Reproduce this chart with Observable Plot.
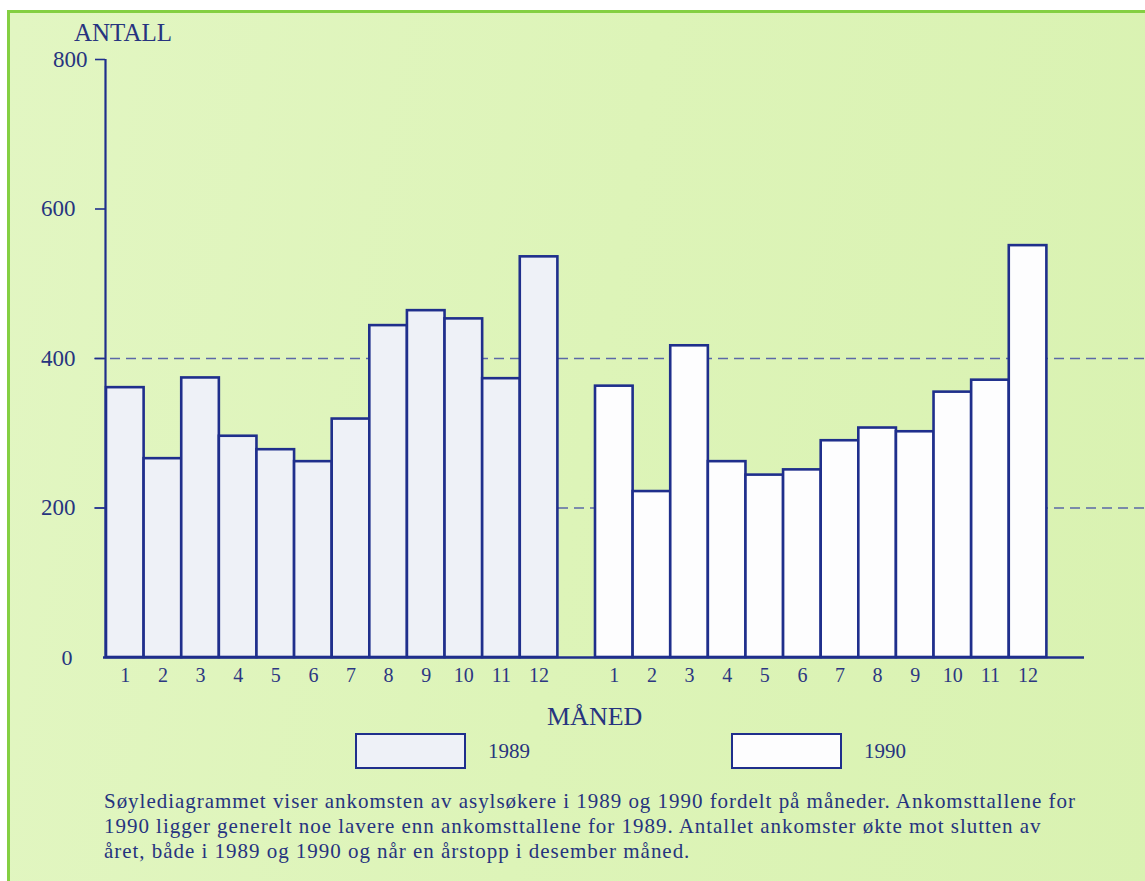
<!DOCTYPE html>
<html>
<head>
<meta charset="utf-8">
<script src="https://cdn.jsdelivr.net/npm/d3@7"></script>
<script src="https://cdn.jsdelivr.net/npm/@observablehq/plot@0.6"></script>
<style>
  html, body { margin: 0; padding: 0; background: #ffffff; }
  body { width: 1145px; height: 881px; position: relative; overflow: hidden; font-family: "Liberation Serif", "DejaVu Serif", serif; color: #27347f; }
  #frame { position: absolute; left: 7px; top: 10px; width: 1150px; height: 890px; border: 3px solid #84cf42; box-sizing: border-box;
    background: linear-gradient(100deg, #e2f6c2 0%, #ddf4b8 50%, #d9f2b1 100%); }
  #chart { position: absolute; left: 0; top: 0; }
  .lbl { position: absolute; white-space: nowrap; font-family: "Liberation Serif", serif; }
  .box { position: absolute; border: 2px solid #1f2f8c; box-sizing: border-box; }
  #caption { position: absolute; left: 104px; top: 789px; font-family: "Liberation Serif", serif; font-size: 21px; letter-spacing: 0.97px; line-height: 25px; color: #26337f; }
</style>
</head>
<body>
<div id="frame"></div>
<div id="chart"></div>
<div class="lbl" style="left:74px;top:19px;font-size:25px;">ANTALL</div>
<div class="lbl" style="left:547px;top:702px;font-size:26px;">MÅNED</div>
<div class="box" style="left:355px;top:733px;width:111px;height:36px;background:#eef1f7;"></div>
<div class="lbl" style="left:488px;top:739px;font-size:21px;">1989</div>
<div class="box" style="left:731px;top:733px;width:111px;height:36px;background:#fdfdfe;"></div>
<div class="lbl" style="left:864px;top:739px;font-size:21px;">1990</div>
<div id="caption">
  <div>Søylediagrammet viser ankomsten av asylsøkere i 1989 og 1990 fordelt på måneder. Ankomsttallene for</div>
  <div>1990 ligger generelt noe lavere enn ankomsttallene for 1989. Antallet ankomster økte mot slutten av</div>
  <div>året, både i 1989 og 1990 og når en årstopp i desember måned.</div>
</div>
<script>
// ---- data ----
const months = ["1","2","3","4","5","6","7","8","9","10","11","12"];
const years = ["1989", "1990"];
const antall1989 = [361, 266, 374, 296, 278, 262, 319, 444, 464, 453, 373, 536];
const antall1990 = [363, 222, 417, 262, 244, 251, 290, 307, 302, 355, 371, 551];
const yTicks = [200, 400, 600, 800];
const gridLines = [200, 400];

// ---- build table (slot = position along the month axis; one empty slot between years) ----
const rows = [];
[antall1989, antall1990].forEach((vals, yi) => {
  vals.forEach((v, mi) => rows.push({ year: years[yi], month: months[mi], slot: yi * 13 + mi, value: v }));
});

const navy = "#1f2f8c";
const chart = Plot.plot({
  width: 1145,
  height: 700,
  marginLeft: 106,
  marginRight: 61,
  marginTop: 59,
  marginBottom: 43,
  style: { background: "transparent", fontFamily: "Liberation Serif, serif", fontSize: "21px", color: "#27347f", overflow: "visible" },
  x: { type: "linear", domain: [0, 26], axis: null },
  y: { domain: [0, 800], axis: null },
  color: { domain: years, range: ["#eef1f7", "#fdfdfe"] },
  marks: [
    Plot.ruleY(gridLines, { stroke: "#5b68a8", strokeWidth: 1.3, strokeDasharray: "10,6", insetLeft: -12, insetRight: -62 }),
    Plot.rectY(rows, { x1: "slot", x2: d => d.slot + 1, y: "value", fill: "year", stroke: navy, strokeWidth: 2.6 }),
    Plot.ruleX([0], { y1: 0, y2: 800, stroke: navy, strokeWidth: 2.2, dx: -1 }),
    Plot.ruleY([0], { stroke: navy, strokeWidth: 2.4, insetLeft: -3 }),
    Plot.axisY(yTicks.filter(t => t < 800), { label: null, tickSize: 10, tickPadding: 20, stroke: navy, strokeWidth: 1.6, tickFormat: d => String(d), dx: -1, fontSize: 23 }),
    Plot.axisY([800], { label: null, tickSize: 10, tickPadding: 8, stroke: navy, strokeWidth: 1.6, tickFormat: d => String(d), dx: -1, fontSize: 23 }),
    Plot.axisY([0], { label: null, tickSize: 0, tickPadding: 33, tickFormat: d => String(d), dx: -1, fontSize: 22 }),
    Plot.text(rows, { x: d => d.slot + 0.5, y: 0, text: "month", dy: 18, fontSize: 20, fill: "#2c3782" })
  ]
});
document.getElementById("chart").appendChild(chart);
</script>
</body>
</html>
